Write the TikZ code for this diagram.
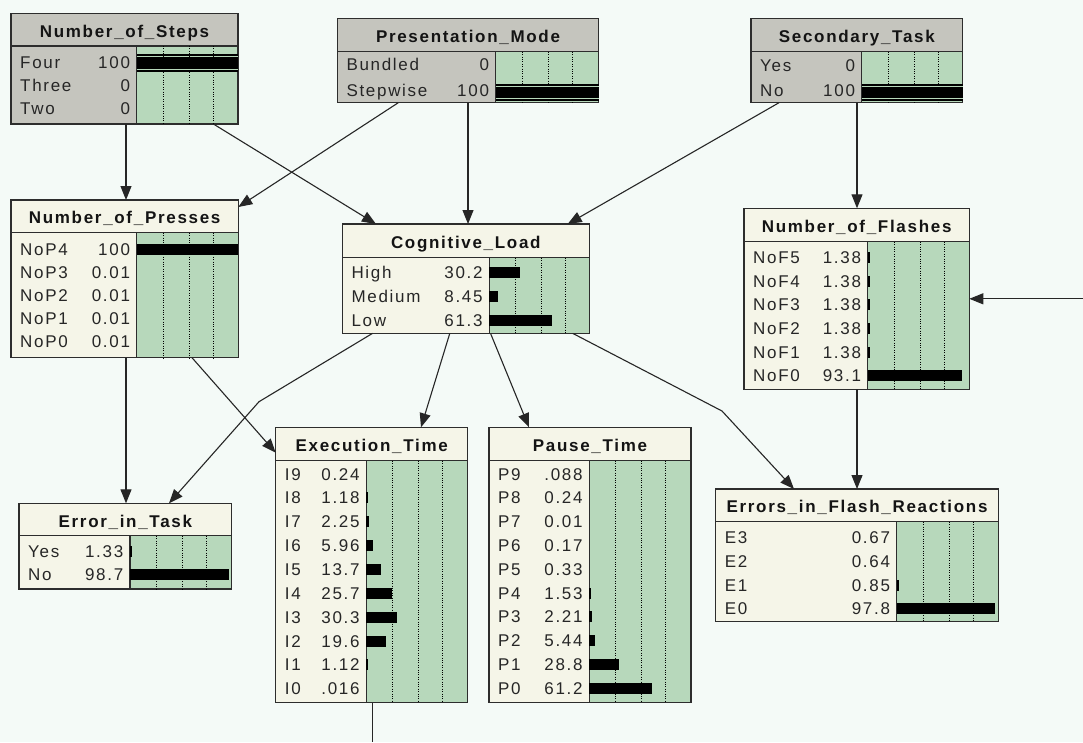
\documentclass[tikz,border=0pt]{standalone}
\usepackage{fontspec}
\newfontfamily\netfont[LetterSpace=10]{Liberation Sans}
\usetikzlibrary{arrows.meta}

\definecolor{bgcol}{RGB}{244,250,247}
\definecolor{evgray}{RGB}{197,197,190}
\definecolor{cream}{RGB}{245,245,232}
\definecolor{bargreen}{RGB}{183,216,187}
\definecolor{framecol}{RGB}{45,45,45}

% one belief-network box: name, left, top, right, title bottom, bottom, divider, label fill, title
\newcommand\netbox[9]{%
  \def\nlx{#2+9}\def\ndx{#7}\def\nvx{#7-6.5}\def\ntb{#5}\def\nbt{#6}%
  \fill[#8] (#2,#3) rectangle (#4,#6);
  \fill[bargreen] (#7,#5) rectangle (#4,#6);
  \draw[frameline] (#2,#5) -- (#4,#5) (#7,#5) -- (#7,#6);
  \node[frame, minimum width={#4-#2}, minimum height={#6-#3}] (#1) at (#2,#3) {};
  \node[titletext] (#1-title) at ({(#2+#4)/2},{(#3+#5)/2+7.5}) {#9};
}
% one state row: box name, state, value, bar length, row centre
\newcommand\netrow[5]{%
  \node[rowtext, anchor=base west] (#1-#2) at (\nlx,#5+6) {#2};
  \node[rowtext, anchor=base east] (#1-#2-v) at (\nvx,#5+6) {#3};
  \ifdim #4pt>0pt \fill[black] (\ndx,#5-5.5) rectangle (\ndx+#4,#5+5.5);\fi
}
% full bar of an observed state: centre, right end
\newcommand\evbar[2]{%
  \fill[black] (\ndx,#1-8.7) rectangle (#2,#1+8.7);
  \draw[bargreen, line width=0.9pt] (\ndx,#1-6.2) -- (#2,#1-6.2) (\ndx,#1+6.2) -- (#2,#1+6.2);
}
% dotted scale lines in the bar area
\newcommand\netgrid{%
  \foreach \gx in {26.5,52.5,76.5}
    \draw[gridline] (\ndx+\gx,\ntb) -- (\ndx+\gx,\nbt);
}

\begin{document}
\begin{tikzpicture}[x=1pt,y=-1pt,
  font={\netfont\fontsize{17}{20}\selectfont},
  frame/.style={draw=framecol, line width=1.3pt, fill=none, rectangle,
    inner sep=0pt, outer sep=0pt, anchor=north west},
  frameline/.style={draw=framecol, line width=1.3pt},
  titletext/.style={font={\netfont\bfseries\fontsize{17}{20}\selectfont},
    anchor=base, inner sep=0pt, text=black!92},
  rowtext/.style={inner sep=0pt, text=black!85},
  gridline/.style={draw=black, line width=0.9pt, dash pattern=on 1pt off 1.4pt},
  link/.style={draw=black!85, line width=1.1pt, -{Triangle[length=14pt,width=11pt]}},
  plainlink/.style={draw=black!85, line width=1.1pt}]

\fill[bgcol] (0,0) rectangle (1083,742);
\useasboundingbox (0,0) rectangle (1083,742);

% ---------- observed nodes ----------
\netbox{steps}{11}{13.3}{238}{46}{124}{136.7}{evgray}{Number\_of\_Steps}
\evbar{63}{238}
\netrow{steps}{Four}{100}{0}{62}
\netrow{steps}{Three}{0}{0}{85.5}
\netrow{steps}{Two}{0}{0}{108.5}
\netgrid

\netbox{present}{337.3}{18.3}{598.7}{51.7}{102.7}{495.7}{evgray}{Presentation\_Mode}
\evbar{92.5}{598.7}
\netrow{present}{Bundled}{0}{0}{64.5}
\netrow{present}{Stepwise}{100}{0}{90.5}
\netgrid

\netbox{second}{751}{18.3}{962.7}{51.7}{102.7}{861.7}{evgray}{Secondary\_Task}
\evbar{92.5}{962.7}
\netrow{second}{Yes}{0}{0}{65}
\netrow{second}{No}{100}{0}{90.5}
\netgrid

% ---------- middle row ----------
\netbox{presses}{11}{200}{238.3}{232.7}{357.7}{136.7}{cream}{Number\_of\_Presses}
\netrow{presses}{NoP4}{100}{101.6}{249.2}
\netrow{presses}{NoP3}{0.01}{0}{272.0}
\netrow{presses}{NoP2}{0.01}{0}{295.2}
\netrow{presses}{NoP1}{0.01}{0}{318.5}
\netrow{presses}{NoP0}{0.01}{0}{341.7}
\netgrid

\netbox{cogload}{342.3}{224}{589.3}{257.7}{333.3}{489.3}{cream}{Cognitive\_Load}
\netrow{cogload}{High}{30.2}{30.7}{272.5}
\netrow{cogload}{Medium}{8.45}{8.3}{296.2}
\netrow{cogload}{Low}{61.3}{62.4}{320}
\netgrid

\netbox{flashes}{744}{208.3}{969.3}{241.7}{389.3}{867.7}{cream}{Number\_of\_Flashes}
\netrow{flashes}{NoF5}{1.38}{2.5}{257.8}
\netrow{flashes}{NoF4}{1.38}{2.5}{281.3}
\netrow{flashes}{NoF3}{1.38}{2.5}{304.9}
\netrow{flashes}{NoF2}{1.38}{2.5}{328.4}
\netrow{flashes}{NoF1}{1.38}{2.5}{352.0}
\netrow{flashes}{NoF0}{93.1}{94.3}{375.5}
\netgrid

% ---------- bottom row ----------
\netbox{exec}{275.7}{427.3}{467.7}{460.7}{702.7}{366.3}{cream}{Execution\_Time}
\netrow{exec}{I9}{0.24}{0}{474.0}
\netrow{exec}{I8}{1.18}{2}{497.9}
\netrow{exec}{I7}{2.25}{2.5}{521.7}
\netrow{exec}{I6}{5.96}{6.7}{545.6}
\netrow{exec}{I5}{13.7}{14.3}{569.4}
\netrow{exec}{I4}{25.7}{25.9}{593.3}
\netrow{exec}{I3}{30.3}{30.7}{617.1}
\netrow{exec}{I2}{19.6}{19.2}{641.0}
\netrow{exec}{I1}{1.12}{2}{664.8}
\netrow{exec}{I0}{.016}{0}{688.7}
\netgrid

\netbox{pause}{489}{427.3}{691}{460.7}{702.7}{589.3}{cream}{Pause\_Time}
\netrow{pause}{P9}{.088}{0}{474.0}
\netrow{pause}{P8}{0.24}{0}{497.8}
\netrow{pause}{P7}{0.01}{0}{521.6}
\netrow{pause}{P6}{0.17}{0}{545.4}
\netrow{pause}{P5}{0.33}{0}{569.2}
\netrow{pause}{P4}{1.53}{2}{593.1}
\netrow{pause}{P3}{2.21}{2.5}{616.9}
\netrow{pause}{P2}{5.44}{5.7}{640.7}
\netrow{pause}{P1}{28.8}{29.2}{664.5}
\netrow{pause}{P0}{61.2}{62.3}{688.3}
\netgrid

\netbox{errtask}{19}{503.3}{231.7}{535.7}{589}{130}{cream}{Error\_in\_Task}
\netrow{errtask}{Yes}{1.33}{2}{551.7}
\netrow{errtask}{No}{98.7}{99.3}{574.5}
\netgrid

\netbox{errflash}{715.7}{489}{998.3}{521.7}{621.7}{896.7}{cream}{Errors\_in\_Flash\_Reactions}
\netrow{errflash}{E3}{0.67}{0}{537.5}
\netrow{errflash}{E2}{0.64}{0}{561.3}
\netrow{errflash}{E1}{0.85}{2}{585.0}
\netrow{errflash}{E0}{97.8}{98.6}{608.8}
\netgrid

% ---------- links ----------
\coordinate (kinkA) at (259,401.7);
\coordinate (kinkB) at (722,411);
\coordinate (offright) at (1083,298.8);
\coordinate (offbottom) at (372.3,742);

\draw[link] ([xshift=115pt]steps.south west) -- ([xshift=115pt]presses.north west);
\draw[link] ([xshift=202.4pt]steps.south west) -- ([xshift=33.7pt]cogload.north west);
\draw[link] ([xshift=61pt]present.south west) -- ([yshift=-7pt]presses.north east);
\draw[link] ([xshift=130.7pt]present.south west) -- ([xshift=125.7pt]cogload.north west);
\draw[link] ([xshift=28pt]second.south west) -- ([xshift=225.4pt]cogload.north west);
\draw[link] ([xshift=106pt]second.south west) -- ([xshift=113pt]flashes.north west);
\draw[link] ([xshift=115pt]presses.south west) -- ([xshift=107pt]errtask.north west);
\draw[link] ([xshift=181pt]presses.south west) -- ([yshift=-25.4pt]exec.north west);
\draw[link] ([xshift=30.3pt]cogload.south west) -- (kinkA) -- ([xshift=150pt]errtask.north west);
\draw[link] ([xshift=107.5pt]cogload.south west) -- ([xshift=145.3pt]exec.north west);
\draw[link] ([xshift=148.2pt]cogload.south west) -- ([xshift=40pt]pause.north west);
\draw[link] ([xshift=230.3pt]cogload.south west) -- (kinkB) -- ([xshift=78.3pt]errflash.north west);
\draw[link] ([xshift=113pt]flashes.south west) -- ([xshift=141.3pt]errflash.north west);
\draw[link] (offright) -- (flashes.east);
\draw[plainlink] ([xshift=96.6pt]exec.south west) -- (offbottom);
\end{tikzpicture}
\end{document}
